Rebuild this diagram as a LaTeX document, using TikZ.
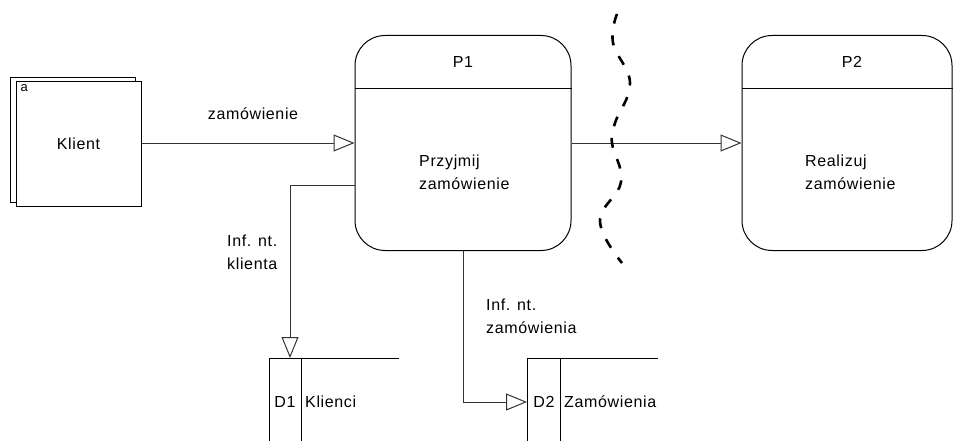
\documentclass[tikz,border=0pt]{standalone}
\usepackage{fontspec}
\setmainfont{Liberation Sans}[LetterSpace=4]
\usetikzlibrary{arrows.meta,calc}
\begin{document}
\begin{tikzpicture}[x=1pt,y=-1pt,
  every node/.style={font=\fontsize{16}{23}\selectfont, inner sep=0pt},
  flow/.style={draw=black!80, line width=1pt, -{Triangle[open,length=21pt,width=17pt,line width=1pt]}},
  proc/.style={draw=black, line width=1pt, rounded corners=30pt, minimum width=216pt, minimum height=215pt},
  ext/.style={draw=black, line width=1pt, fill=white, minimum width=125pt, minimum height=124pt},
  store/.style={draw=black, line width=1pt},
  lbl/.style={align=left, anchor=west}]
\useasboundingbox (0,0) rectangle (955,441);
% external entity
\node[ext] (klientb) at (73,140) {};
\node[ext] (klient) at (78.5,144) {Klient};
\node[anchor=north west, font=\fontsize{13}{15}\selectfont] (a) at ([xshift=5pt,yshift=-3pt]klient.north west) {a};
% processes
\node[proc] (P1) at (463,143) {};
\draw[line width=1pt] ([yshift=-54pt]P1.north west) -- ([yshift=-54pt]P1.north east);
\node (P1id) at (463,62) {P1};
\node[lbl] (P1t) at (419,172) {Przyjmij\\zamówienie};
\node[proc,minimum width=210pt] (P2) at (847,143) {};
\draw[line width=1pt] ([yshift=-54pt]P2.north west) -- ([yshift=-54pt]P2.north east);
\node (P2id) at (852,62) {P2};
\node[lbl] (P2t) at (805,172) {Realizuj\\zamówienie};
% stores
\coordinate (D1in) at (290,358);
\draw[store] (399,358) -- (269,358) -- (269,441);
\draw[store] (301,358) -- (301,441);
\node (D1) at (285,402) {D1};
\node[anchor=west] (D1n) at (305,402) {Klienci};
\coordinate (D2in) at (527,402);
\draw[store] (658,358) -- (527,358) -- (527,441);
\draw[store] (560,358) -- (560,441);
\node (D2) at (544,402) {D2};
\node[anchor=west] (D2n) at (564,402) {Zamówienia};
% flows
\draw[flow] (klient.east |- P1.west) -- (P1.west);
\node (f1) at (253,114) {zamówienie};
\draw[flow] (P1.east) -- (P2.west);
\draw[flow] ([yshift=-42pt]P1.west) -| (D1in);
\node[lbl] (f2) at (227,252) {Inf. nt.\\klienta};
\draw[flow] (P1.south) |- (D2in);
\node[lbl] (f3) at (486,316) {Inf. nt.\\zamówienia};
% boundary
\draw[line width=2.6pt, dash pattern=on 10pt off 12pt] plot[smooth, tension=0.7] coordinates {(617,14) (613,43) (630,83) (615,123) (612,143) (621,182) (600,221) (622,263)};
\end{tikzpicture}
\end{document}
